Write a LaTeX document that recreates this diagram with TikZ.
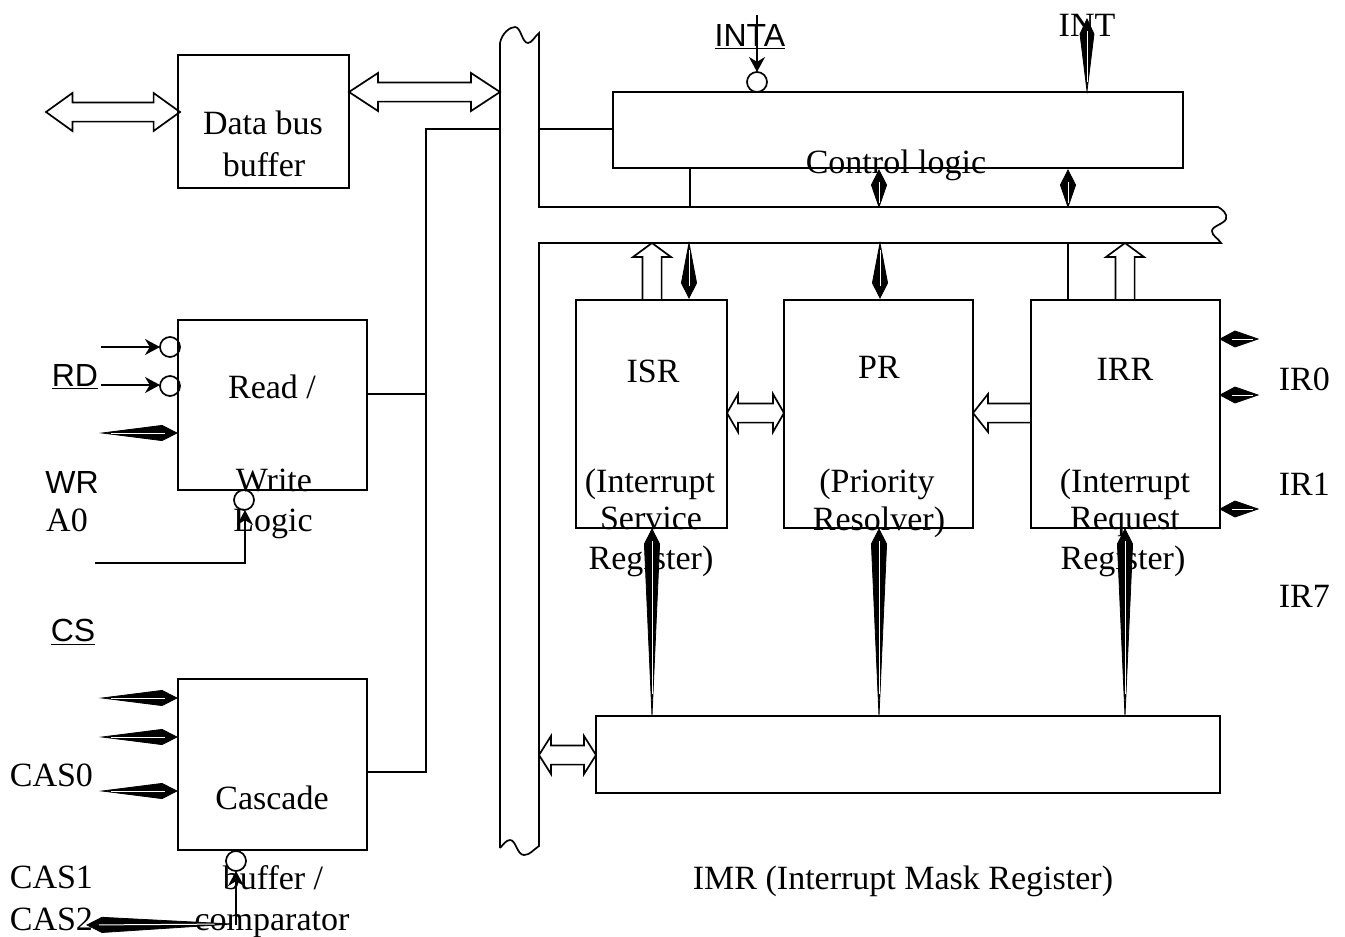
\documentclass[tikz,border=0pt]{standalone}
\usepackage{fontspec}
\setmainfont{Liberation Serif}
\setsansfont{Liberation Sans}
\usetikzlibrary{arrows.meta,calc,fit}
\tikzset{
  regbox/.style={draw, inner sep=0pt, outer sep=0pt, fit={#1}},
  txt/.style={inner sep=0pt, font=\fontsize{17}{20}\selectfont},
  pintxt/.style={inner sep=0pt, font=\fontsize{16}{20}\selectfont\sffamily},
  bubble/.style={draw, circle, minimum size=10pt, inner sep=0pt, outer sep=0pt},
  sig/.style={-{Stealth[length=7.5pt,width=8pt]}},
  blockline/.style={draw},
}
% thin kite: #1 tail, #2 tip, #3 half width
\newcommand{\kite}[3]{%
  \filldraw[line width=0.4pt] (#1) -- ($(#2)!7.5pt!(#1)!#3!90:(#1)$) -- (#2) -- ($(#2)!7.5pt!(#1)!#3!-90:(#1)$) -- cycle;
  \draw[white, line width=0.5pt] ($(#1)!.12!(#2)$) -- ($(#2)!6pt!(#1)$);}
% hollow arrow, both ends: #3 head length
\newcommand{\blockboth}[3]{%
  \draw[blockline] (#1) -- ($(#1)!#3!(#2)!9.5pt!90:(#2)$) -- ($(#1)!#3!(#2)!4.8pt!90:(#2)$)
    -- ($(#2)!#3!(#1)!4.8pt!-90:(#1)$) -- ($(#2)!#3!(#1)!9.5pt!-90:(#1)$) -- (#2)
    -- ($(#2)!#3!(#1)!9.5pt!90:(#1)$) -- ($(#2)!#3!(#1)!4.8pt!90:(#1)$)
    -- ($(#1)!#3!(#2)!4.8pt!-90:(#2)$) -- ($(#1)!#3!(#2)!9.5pt!-90:(#2)$) -- cycle;}
% hollow arrow, open tail #1, tip #2
\newcommand{\blockone}[3]{%
  \draw[blockline] ($(#1)!4.8pt!90:(#2)$) -- ($(#2)!#3!(#1)!4.8pt!-90:(#1)$) -- ($(#2)!#3!(#1)!9.5pt!-90:(#1)$) -- (#2)
    -- ($(#2)!#3!(#1)!9.5pt!90:(#1)$) -- ($(#2)!#3!(#1)!4.8pt!90:(#1)$) -- ($(#1)!4.8pt!-90:(#2)$);}
\begin{document}
\begin{tikzpicture}[x=0.5pt,y=-0.5pt,line width=0.85pt]
\useasboundingbox (0,0) rectangle (1345,937);

% blocks
\node[regbox={(178,55) (349,188)}] (dbb) {};
\node[regbox={(178,320) (367,490)}] (rw) {};
\node[regbox={(178,679) (367,850)}] (cas) {};
\node[regbox={(613,92) (1183,168)}] (ctrl) {};
\node[regbox={(576,300) (727,528)}] (isr) {};
\node[regbox={(784,300) (973,528)}] (pr) {};
\node[regbox={(1031,300) (1220,528)}] (irr) {};
\node[regbox={(596,716) (1220,793)}] (imr) {};

% block texts
\node[txt] (dbb1) at (263,123) {Data bus};
\node[txt] (dbb2) at (264,165) {buffer};
\node[txt] (rw1) at (272,387) {Read /};
\node[txt] (rw2) at (274,480) {Write};
\node[txt] (rw3) at (273,524) {Logic};
\node[txt] (cas1) at (272,798) {Cascade};
\node[txt] (cas2) at (273,878) {buffer /};
\node[txt] (cas3) at (272,925) {comparator};
\node[txt] (ctrl1) at (896,165) {Control logic};
\node[txt] (isr1) at (653,371) {ISR};
\node[txt] (isr2) at (650,484) {(Interrupt};
\node[txt] (isr3) at (651,518) {Service};
\node[txt] (isr4) at (651,561) {Register)};
\node[txt] (pr1) at (879,367) {PR};
\node[txt] (pr2) at (877,484) {(Priority};
\node[txt] (pr3) at (879,522) {Resolver)};
\node[txt] (irr1) at (1125,369) {IRR};
\node[txt] (irr2) at (1125,484) {(Interrupt};
\node[txt] (irr3) at (1125,522) {Request};
\node[txt] (irr4) at (1123,561) {Register)};
\node[txt] (imr1) at (903,881) {IMR (Interrupt Mask Register)};

% pin texts
\node[pintxt] (rdpin) at (75,377) {\underline{RD}};
\node[pintxt] (wrpin) at (72,482) {WR};
\node[txt] (a0pin) at (67,520) {A0};
\node[pintxt] (cspin) at (73,632) {\underline{CS}};
\node[pintxt] (intapin) at (750,37) {\underline{INTA}};
\node[txt] (intpin) at (1087,25) {INT};
\node[txt,anchor=west] (cas0pin) at (9,775) {CAS0};
\node[txt,anchor=west] (cas1pin) at (9,877) {CAS1};
\node[txt,anchor=west] (cas2pin) at (9,919) {CAS2};
\node[txt,anchor=west] (ir0pin) at (1278,379) {IR0};
\node[txt,anchor=west] (ir1pin) at (1278,484) {IR1};
\node[txt,anchor=west] (ir7pin) at (1278,596) {IR7};

% internal bus
\draw (500,848) -- (500,43) .. controls (502,33) and (510,27) .. (515,27)
  .. controls (521,27) and (522,43) .. (528,43) .. controls (532,43) and (535,36) .. (539,33)
  -- (539,207) -- (1218,207) .. controls (1222,209) and (1228,214) .. (1226,219)
  .. controls (1224,224) and (1212,226) .. (1212,231) .. controls (1212,236) and (1218,238) .. (1221,243)
  -- (539,243) -- (539,846) .. controls (533,850) and (530,855) .. (524,855)
  .. controls (517,855) and (516,840) .. (510,840) .. controls (506,840) and (503,845) .. (500,848);

% bus coordinates
\coordinate (dbbl) at (46,112);
\coordinate (dbbr) at (180,112);
\coordinate (dbout) at (349,92);
\coordinate (busin) at (500,92);
\coordinate (ctrlbus) at (539,129);
\coordinate (rail) at (426,129);
\coordinate (railbus) at (501,129);
\coordinate (rwout) at (367,394);
\coordinate (railrw) at (426,394);
\coordinate (casout) at (367,772);
\coordinate (railcas) at (426,772);
\coordinate (imrbus) at (539,755);
\coordinate (imrin) at (596,755);

% bus wiring
\blockboth{dbbl}{dbbr}{13.2pt}
\blockboth{dbout}{busin}{14.5pt}
\blockboth{imrbus}{imrin}{6pt}
\draw (railbus) -- (rail) -- (railcas) -- (casout);
\draw (rwout) -- (railrw);
\draw (ctrlbus) -- (ctrlbus -| ctrl.west);
\coordinate (ctrldrop) at (690,168);
\coordinate (ctrlrail) at (690,207);
\draw (ctrldrop) -- (ctrlrail);
\coordinate (irrup) at (1068,243);
\coordinate (irrtop) at (1068,300);
\draw (irrup) -- (irrtop);

% hollow arrows between registers
\coordinate (isrl) at (727,413);
\coordinate (prl) at (784,413);
\coordinate (prr) at (973,413);
\coordinate (irrl) at (1031,413);
\blockboth{isrl}{prl}{5.5pt}
\blockone{irrl}{prr}{7.5pt}
\coordinate (isrt) at (652,300);
\coordinate (isrb) at (652,243);
\coordinate (irrt) at (1125,300);
\coordinate (irrb) at (1125,243);
\blockone{isrt}{isrb}{7pt}
\blockone{irrt}{irrb}{7pt}

% kite arrows
\foreach \nm/\xa/\ya/\xb/\yb/\hw in {
  a/102/433/177/433/3.8pt, b/102/698/177/698/3.8pt, c/102/737/177/737/3.8pt, d/102/791/177/791/3.8pt,
  e/232/924/87/925/3.8pt, f/879/207/879/170/3.8pt, g/1068/207/1068/170/3.8pt, h/1087/91/1087/19/3.5pt,
  i/689/243/689/298/3.8pt, j/880/243/880/298/3.8pt, k/652/716/652/529/3.8pt, l/879/716/879/529/3.8pt,
  m/1125/716/1125/529/3.8pt, n/1258/339/1220/339/4pt, o/1258/395/1220/395/4pt, p/1258/509/1220/509/4pt}
{
  \coordinate (kt\nm) at (\xa,\ya);
  \coordinate (kh\nm) at (\xb,\yb);
  \kite{kt\nm}{kh\nm}{\hw}
}

% bubbles
\node[bubble] (rdb) at (170,347) {};
\node[bubble] (wrb) at (170,386) {};
\node[bubble] (csb) at (244,500) {};
\node[bubble] (casb) at (236,861) {};
\node[bubble] (intab) at (757,82) {};
\coordinate (rdin) at (101,347);
\coordinate (wrin) at (101,385);
\coordinate (csin) at (95,563);
\coordinate (csup) at (245,563);
\coordinate (casin) at (236,925);
\coordinate (intain) at (757,15);
\draw[sig] (rdin) -- (rdb);
\draw[sig] (wrin) -- (wrin -| wrb.west);
\draw[sig] (csin) -- (csup) -- (csup |- csb.south);
\draw[sig] (casin) -- (casb);
\draw[sig] (intain) -- (intab);
\end{tikzpicture}
\end{document}
